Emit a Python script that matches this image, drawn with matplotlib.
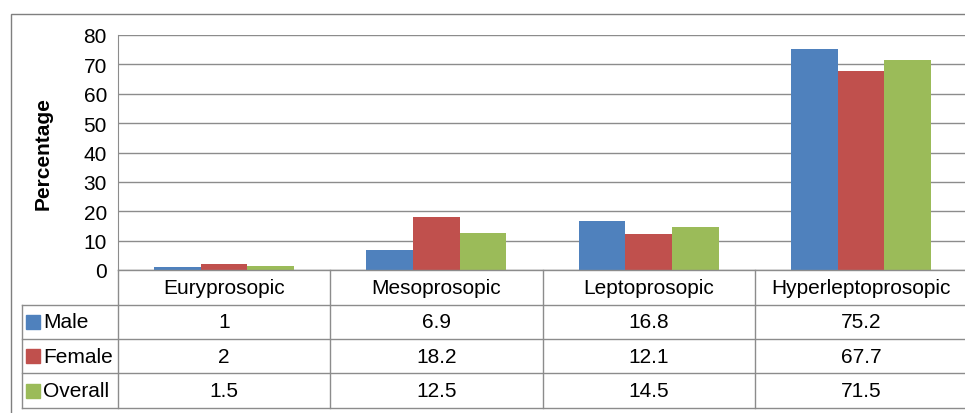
import numpy as np
import matplotlib.pyplot as plt
from matplotlib.patches import Rectangle

categories = ['Euryprosopic', 'Mesoprosopic', 'Leptoprosopic', 'Hyperleptoprosopic']
series_names = ['Male', 'Female', 'Overall']
male = [1, 6.9, 16.8, 75.2]
female = [2, 18.2, 12.1, 67.7]
overall = [1.5, 12.5, 14.5, 71.5]
colors = ['#4F81BD', '#C0504D', '#9BBB59']

plt.rcParams['font.family'] = ['Liberation Sans', 'DejaVu Sans']
W, H = 965, 414
fig = plt.figure(figsize=(W / 100, H / 100), dpi=100)

def fx(px):
    return px / W

def fy(py):
    return 1 - py / H

grid_col = '#8C8C8C'
fs = 15

# outer frame
fig.add_artist(Rectangle((fx(11), fy(414) - 0.01), fx(W + 10) - fx(11), fy(15) - fy(414) + 0.01,
                         transform=fig.transFigure, fill=False, edgecolor='#7F7F7F', lw=1.0))

# main chart
left, right, top, bottom = 118, 967, 36, 271
ax = fig.add_axes([fx(left), fy(bottom), fx(right) - fx(left), fy(top) - fy(bottom)])
x = np.arange(len(categories))
w = 0.22
for i, vals in enumerate([male, female, overall]):
    ax.bar(x + (i - 1) * w, vals, w, color=colors[i], zorder=3)
ax.set_xlim(-0.5, 3.5)
ax.set_ylim(0, 80)
ax.set_yticks(range(0, 81, 10))
ax.tick_params(axis='y', length=0, labelsize=fs, pad=8)
ax.set_xticks([])
ax.yaxis.grid(True, color=grid_col, lw=1.0, zorder=0)
for s in ['top', 'right', 'bottom']:
    ax.spines[s].set_visible(False)
ax.spines['left'].set_color(grid_col)
ax.set_ylabel('Percentage', fontsize=fs, fontweight='bold', labelpad=22)

# data table below
tleft, tbottom = 22, 409
tax = fig.add_axes([fx(tleft), fy(tbottom), fx(right) - fx(tleft), fy(bottom) - fy(tbottom)])
unit = (right - left) / 4.0
xmin = -0.5 - (left - tleft) / unit
tax.set_xlim(xmin, 3.5)
tax.set_ylim(4, 0)
tax.axis('off')

lk = dict(color=grid_col, lw=1.0, clip_on=False)
for b in [-0.5, 0.5, 1.5, 2.5]:
    tax.plot([b, b], [0, 4], **lk)
tax.plot([xmin, xmin], [1, 4], **lk)
for r in [1, 2, 3, 4]:
    tax.plot([xmin, 3.5], [r, r], **lk)
tax.plot([-0.5, 3.5], [0, 0], **lk)

for j, c in enumerate(categories):
    tax.text(j, 0.5, c, ha='center', va='center', fontsize=fs)
for i, (name, vals) in enumerate(zip(series_names, [male, female, overall])):
    row = i + 1.5
    tax.add_patch(Rectangle((xmin + 0.02, row - 0.2), 0.065, 0.4, color=colors[i]))
    tax.text(xmin + 0.1, row, name, ha='left', va='center', fontsize=fs)
    for j, v in enumerate(vals):
        tax.text(j, row, f'{v:g}', ha='center', va='center', fontsize=fs)

fig.savefig('out.png', dpi=100)
